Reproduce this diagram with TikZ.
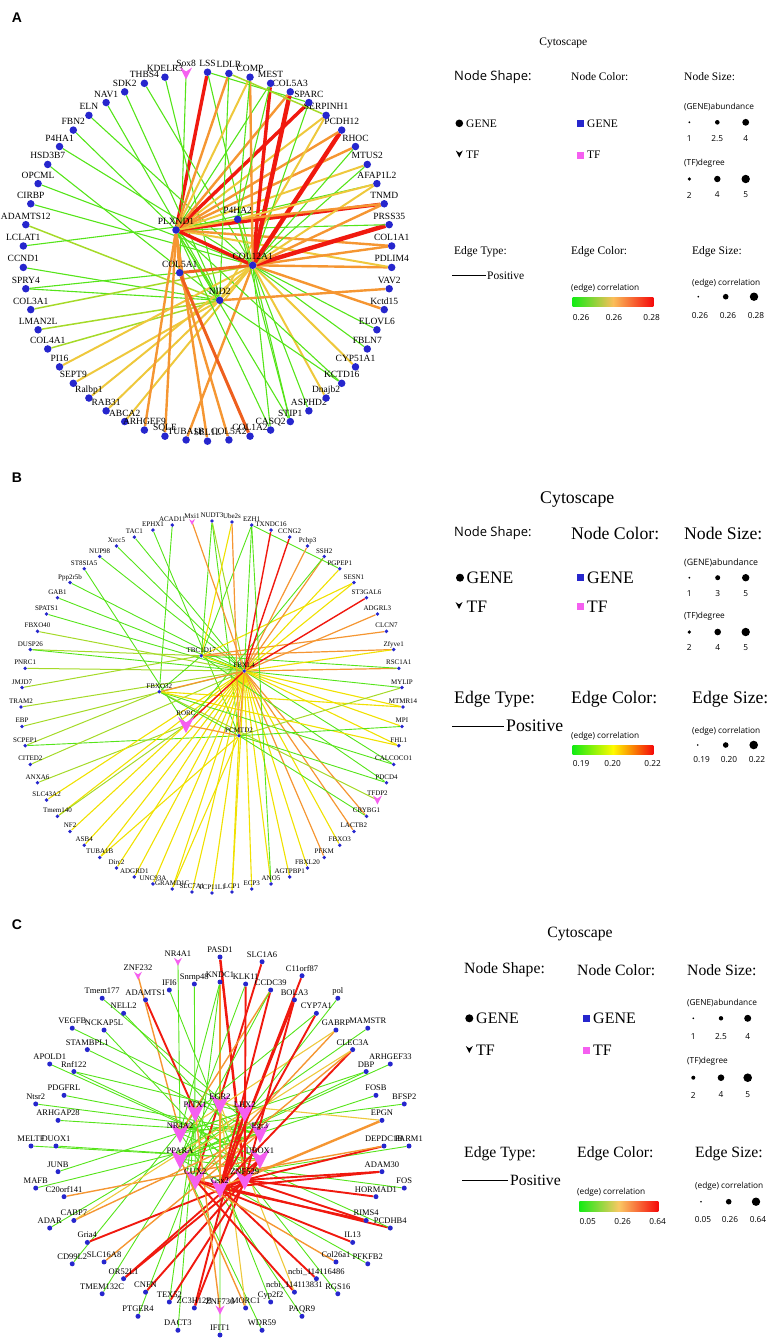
\documentclass[tikz,border=0pt]{standalone}
\usepackage{fontspec}
\setmainfont{Liberation Serif}
\setsansfont{Liberation Sans}
\newfontfamily\osans{Open Sans}
\usetikzlibrary{backgrounds}
\definecolor{nblue}{RGB}{38,38,205}
\definecolor{tpink}{RGB}{245,95,240}
\definecolor{colG}{RGB}{85,228,25}
\definecolor{colYG}{RGB}{165,218,40}
\definecolor{colY}{RGB}{238,200,60}
\definecolor{colBY}{RGB}{240,225,0}
\definecolor{colO}{RGB}{245,150,50}
\definecolor{colOR}{RGB}{238,95,30}
\definecolor{colR}{RGB}{240,25,15}
\definecolor{gradG}{RGB}{20,235,20}
\definecolor{gradR}{RGB}{245,10,10}
\newcommand\chev[4]{\fill[#4] (#1,#2) ++(-#3,-#3) -- ++(#3,{#3*0.667}) -- ++(#3,{-#3*0.667}) -- ++(-#3,{2*#3}) -- cycle;}
\newcommand\tfv[3]{\fill[#3] (#1) ++(-#2,-#2) -- ++(#2,{#2*0.667}) -- ++(#2,{-#2*0.667}) -- ++(-#2,{2*#2}) -- cycle;}
\tikzset{
  adot/.style={circle,fill=nblue,inner sep=0pt,minimum size=7.5pt},
  bdot/.style={circle,fill=nblue,inner sep=0pt,minimum size=3.8pt},
  cdot/.style={circle,fill=nblue,inner sep=0pt,minimum size=5pt},
  tfpt/.style={shape=coordinate},
  alab/.style={font=\fontsize{9.5}{10}\selectfont,inner sep=0pt,anchor=base},
  blab/.style={font=\fontsize{7}{8}\selectfont,inner sep=0pt,anchor=base},
  clab/.style={font=\fontsize{8.5}{9}\selectfont,inner sep=0pt,anchor=base},
  aG/.style={draw=colG,line width=1.1pt},
  aYG/.style={draw=colYG,line width=1.5pt},
  aY/.style={draw=colY,line width=2pt},
  aO/.style={draw=colO,line width=2.4pt},
  aOR/.style={draw=colOR,line width=3pt},
  aR/.style={draw=colR,line width=3.4pt},
  aRR/.style={draw=colR,line width=4.4pt},
  bG/.style={draw=colG,line width=0.9pt},
  bYG/.style={draw=colYG,line width=1pt},
  bY/.style={draw=colBY,line width=1.1pt},
  bO/.style={draw=colO,line width=1.2pt},
  bR/.style={draw=colR,line width=1.4pt},
  cG/.style={draw=colG,line width=0.9pt},
  cY/.style={draw=colY,line width=1.1pt},
  cO/.style={draw=colO,line width=1.4pt},
  cOO/.style={draw=colO,line width=2.4pt},
  cR/.style={draw=colR,line width=1.9pt},
  cRR/.style={draw=colR,line width=2.5pt},
  legs/.style={font=\osans\fontsize{8.3}{9}\selectfont,inner sep=0pt},
  panel/.style={font=\sffamily\bfseries\fontsize{14}{14}\selectfont,inner sep=0pt}
}
\begin{document}
\begin{tikzpicture}[x=1pt,y=-1pt]
\useasboundingbox (0,0) rectangle (770,1339);
% ================= PANEL A =================
\node[panel] (pA) at (17,18) {A};
\foreach \k/\lab in {0/LSS,2/KDELR3,3/THBS4,4/SDK2,5/NAV1,6/ELN,7/FBN2,8/P4HA1,9/HSD3B7,10/OPCML,11/CIRBP,12/ADAMTS12,13/LCLAT1,14/CCND1,15/SPRY4,16/COL3A1,17/LMAN2L,18/COL4A1,19/PI16,20/SEPT9,21/Ralbp1,22/RAB31,23/ABCA2,24/ARHGEF9,25/SQLE,26/TUBA1B,27/SEL1L,28/COL5A2,29/COL1A2,30/CASQ2,31/STIP1,32/ASPHD2,33/Dnajb2,34/KCTD16,35/CYP51A1,36/FBLN7,37/ELOVL6,38/Kctd15,39/VAV2,40/PDLIM4,41/COL1A1,42/PRSS35,43/TNMD,44/AFAP1L2,45/MTUS2,46/RHOC,47/PCDH12,48/SERPINH1,49/SPARC,50/COL5A3,51/MEST,52/COMP,53/LDLR}{
  \node[adot] (a\k) at ({207.5+184.5*cos(90+6.6667*\k)},{256.7-184.5*sin(90+6.6667*\k)}) {};
  \node[alab] (al\k) at ([yshift=5.5pt]a\k.center) {\lab};
}
\node[tfpt] (a1) at ({207.5+184.5*cos(96.6667)},{256.7-184.5*sin(96.6667)}) {};
\node[alab] (al1) at ([yshift=6.5pt]a1) {Sox8};
\foreach \n/\x/\y/\lab in {aPLX/176/230/PLXND1,aP4H/237.7/219.3/P4HA2,aC12/252.7/265.3/COL12A1,aC5/179.7/272.7/COL5A1,aNID/219.7/300.3/NID2}{
  \node[adot] (\n) at (\x,\y) {};
  \node[alab] (\n l) at ([yshift=5.5pt]\n.center) {\lab};
}
\begin{pgfonlayer}{background}
\foreach \u/\v/\s in {a0/aPLX/aR,a0/aC12/aG,a0/a49/aG,a1/aC5/aG,a2/aNID/aG,a3/aC12/aG,a4/aNID/aG,a5/aNID/aG,a6/aC12/aG,a7/aPLX/aG,a8/aC12/aG,a9/aNID/aG,a10/aC12/aG,a11/aC12/aG,a12/aNID/aYG,a13/aP4H/aG,a14/aNID/aG,a15/aNID/aG,a15/aC12/aG,a16/aC12/aYG,a17/aNID/aYG,a18/aNID/aYG,a19/aC12/aY,a20/aNID/aY,a21/aC12/aY,a22/aNID/aY,a23/aC12/aY,a24/aPLX/aO,a25/aPLX/aO,a26/aC12/aO,a27/aPLX/aO,a28/aC5/aO,a29/aC5/aOR,a30/aPLX/aG,a30/aC12/aG,a31/aC12/aG,a31/aPLX/aG,a32/aC12/aG,a33/aC12/aY,a34/aNID/aG,a34/aPLX/aG,a35/aC12/aY,a36/aC12/aG,a37/aC12/aG,a38/aC12/aO,a39/aNID/aO,a40/aC12/aO,a40/aPLX/aY,a41/aC12/aO,a41/aPLX/aO,a42/aC12/aRR,a42/aPLX/aG,a43/aPLX/aR,a43/aC12/aO,a44/aPLX/aG,a44/aC12/aY,a45/aPLX/aY,a45/aC12/aG,a46/aPLX/aO,a46/aC12/aG,a47/aC12/aRR,a47/aPLX/aO,a48/aPLX/aY,a48/aNID/aY,a49/aPLX/aR,a49/aC12/aG,a50/aC12/aRR,a50/aPLX/aO,a51/aC12/aR,a51/aPLX/aG,a52/aC12/aO,a52/aPLX/aY,a53/aPLX/aO,a53/aNID/aG,a53/a48/aYG,aPLX/aC12/aR,aPLX/aP4H/aY,aC5/aC12/aOR,aNID/aC12/aY,aPLX/aNID/aG,aP4H/aC12/aYG,aPLX/aC5/aO,aP4H/a43/aO,aP4H/a44/aY,aP4H/a51/aG,aP4H/a52/aG,aP4H/a31/aG}
  \draw[\s] (\u) -- (\v);
\end{pgfonlayer}
\tfv{a1}{6}{tpink}
% legend A
\node[font=\fontsize{11.5}{12}\selectfont,inner sep=0pt] (lgA0) at (563.3,43.3) {Cytoscape};
\node[font=\osans\fontsize{13}{14}\selectfont,inner sep=0pt,anchor=west] (lgA1) at (454,76.7) {Node Shape:};
\node[font=\fontsize{11.5}{12}\selectfont,inner sep=0pt,anchor=west] (lgA2) at (571,76.7) {Node Color:};
\node[font=\fontsize{11.5}{12}\selectfont,inner sep=0pt,anchor=west] (lgA3) at (684,76.7) {Node Size:};
\fill (459.3,123.3) circle (3.8);
\node[font=\fontsize{11.5}{12}\selectfont,inner sep=0pt,anchor=west] (lgA4) at (466,123.3) {GENE};
\chev{459.3}{154}{3.5}{black}
\node[font=\fontsize{11.5}{12}\selectfont,inner sep=0pt,anchor=west] (lgA5) at (466,155) {TF};
\fill[nblue] (576.8,119.8) rectangle (583.8,126.8);
\fill[tpink] (576.8,151.5) rectangle (583.8,158.5);
\node[font=\fontsize{11.5}{12}\selectfont,inner sep=0pt,anchor=west] (lgA6) at (587,123.3) {GENE};
\node[font=\fontsize{11.5}{12}\selectfont,inner sep=0pt,anchor=west] (lgA7) at (587,155) {TF};
\node[legs,anchor=west] (lgA8) at (684,106.7) {(GENE)abundance};
\fill (689.3,122.3) circle (1); \fill (717.3,122.3) circle (2.3); \fill (745.7,122.3) circle (3.4);
\node[legs] (lgA9) at (689.3,138.3) {1};
\node[legs] (lgA10) at (717.3,138.3) {2.5};
\node[legs] (lgA11) at (745.7,138.3) {4};
\node[legs,anchor=west] (lgA12) at (684,163.3) {(TF)degree};
\fill (689.3,179) circle (1.8); \fill (717.3,179) circle (3.2); \fill (745.7,179) circle (4.2);
\node[legs] (lgA13) at (689.3,195) {2};
\node[legs] (lgA14) at (717.3,195) {4};
\node[legs] (lgA15) at (745.7,195) {5};
\node[font=\fontsize{11.5}{12}\selectfont,inner sep=0pt,anchor=west] (lgA16) at (454,251.7) {Edge Type:};
\draw[line width=0.8pt] (452,275.7) -- (486,275.7);
\node[font=\fontsize{11.5}{12}\selectfont,inner sep=0pt,anchor=west] (lgA17) at (487,275.7) {Positive};
\node[font=\fontsize{11.5}{12}\selectfont,inner sep=0pt,anchor=west] (lgA18) at (571,251.7) {Edge Color:};
\node[legs,anchor=west] (lgA19) at (571,288.3) {(edge) correlation};
\shade[left color=gradG,right color=gradR,middle color={rgb,255:red,250;green,190;blue,90}] (572.7,297.7) rectangle (653.3,306.7);
\node[legs,anchor=west] (lgA20) at (572.7,318) {0.26};
\node[legs] (lgA21) at (614,318) {0.26};
\node[legs,anchor=east] (lgA22) at (660,318) {0.28};
\node[font=\fontsize{11.5}{12}\selectfont,inner sep=0pt,anchor=west] (lgA23) at (692,251.7) {Edge Size:};
\node[legs,anchor=west] (lgA24) at (692,283.3) {(edge) correlation};
\fill (698.3,296.7) circle (0.9); \fill (725.7,296.7) circle (2.8); \fill (754,296.7) circle (4.2);
\node[legs] (lgA25) at (700,316) {0.26};
\node[legs] (lgA26) at (728,316) {0.26};
\node[legs] (lgA27) at (756,316) {0.28};
% ================= PANEL B =================
\node[panel] (pB) at (17,478) {B};
\foreach \k/\lab in {0/NUDT3,2/ACAD11,3/EPHX1,4/TAC1,5/Xrcc5,6/NUP98,7/ST8SIA5,8/Ppp2r5b,9/GAB1,10/SPATS1,11/FBXO40,12/DUSP26,13/PNRC1,14/JMJD7,15/TRAM2,16/EBP,17/SCPEP1,18/CITED2,19/ANXA6,20/SLC43A2,21/Tmem140,22/NF2,23/ASB4,24/TUBA1B,25/Dirc2,26/ADGRD1,27/UNC93A,28/GRAMD1C,29/SLC7A1,30/TCP11L1,31/LCP1,32/ECP3,33/ANO5,34/AGTPBP1,35/FBXL20,36/PFKM,37/FBXO3,38/LACTB2,39/CRYBG1,41/PDCD4,42/CALCOCO1,43/FHL1,44/MPI,45/MTMR14,46/MYLIP,47/RSC1A1,48/Zfyve1,49/CLCN7,50/ADGRL3,51/ST3GAL6,52/SESN1,53/PGPEP1,54/SSH2,55/Pcbp3,56/CCNG2,57/TXNDC16,58/EZH1,59/Ube2s}{
  \node[bdot] (b\k) at ({212+191*cos(90+6*\k)},{707-186*sin(90+6*\k)}) {};
  \node[blab] (bl\k) at ([yshift=3.5pt]b\k.center) {\lab};
}
\node[tfpt] (b1) at ({212+191*cos(96)},{707-186*sin(96)}) {};
\node[blab] (bl1) at ([yshift=3.5pt]b1) {Mxi1};
\node[tfpt] (b40) at ({212+191*cos(330)},{707-186*sin(330)}) {};
\node[blab] (bl40) at ([yshift=5pt]b40) {TFDP2};
\foreach \n/\x/\y/\lab in {bTBC/201.3/655.7/TBC1D17,bFB4/244.3/671/FBXL4,bFO/159.3/691.7/FBXO32,bPCM/239/735.7/PCMTD2}{
  \node[bdot] (\n) at (\x,\y) {};
  \node[blab] (\n l) at ([yshift=3.5pt]\n.center) {\lab};
}
\node[tfpt] (bROR) at (186,725) {};
\node[blab] (bRORl) at ([yshift=10pt]bROR) {RORC};
\begin{pgfonlayer}{background}
\foreach \u/\v/\s in {b0/bTBC/bG,b0/bPCM/bG,b0/bFB4/bYG,b1/bFB4/bO,b2/bFO/bG,b3/bPCM/bG,b4/bFB4/bG,b5/bFB4/bG,b6/bFB4/bG,b7/bROR/bG,b8/bFB4/bG,b9/bFB4/bG,b10/bFB4/bG,b11/bFB4/bYG,b12/bTBC/bYG,b12/bFB4/bG,b13/bFB4/bYG,b14/bTBC/bYG,b15/bFB4/bYG,b16/bFB4/bYG,b17/bFO/bYG,b17/bPCM/bG,b18/bFB4/bYG,b19/bROR/bYG,b20/bFB4/bY,b21/bFB4/bY,b21/bROR/bYG,b22/bFB4/bY,b23/bFB4/bY,b24/bFB4/bY,b24/bPCM/bY,b25/bFB4/bY,b26/bFB4/bY,b27/bFB4/bY,b28/bFB4/bY,b28/bPCM/bY,b29/bFB4/bY,b30/bFB4/bY,b31/bFB4/bY,b31/bPCM/bY,b32/bFB4/bY,b33/bFB4/bY,b34/bFB4/bY,b35/bFB4/bY,b36/bFB4/bO,b37/bFB4/bY,b38/bFB4/bO,b39/bFB4/bO,b39/bPCM/bG,b40/bFO/bYG,b41/bPCM/bG,b41/bTBC/bG,b42/bFB4/bG,b42/bFO/bG,b43/bFB4/bY,b43/bFO/bY,b44/bFB4/bY,b44/bPCM/bG,b45/bFB4/bY,b45/bFO/bY,b46/bFB4/bG,b46/bPCM/bYG,b47/bFB4/bO,b47/bTBC/bG,b48/bTBC/bO,b48/bFB4/bY,b49/bTBC/bO,b50/bFB4/bO,b51/bFB4/bR,b52/bFB4/bY,b52/bTBC/bY,b53/bFB4/bY,b53/b58/bG,b54/bFB4/bO,b54/bROR/bG,b55/bFB4/bO,b56/bFB4/bR,b57/bFB4/bR,b58/bTBC/bG,b58/bFB4/bG,b58/b33/bG,b59/bTBC/bY,b59/bPCM/bO,bTBC/bFB4/bY,bFO/bFB4/bO,bROR/bFB4/bR,bROR/bPCM/bO,bFB4/bPCM/bO,bTBC/bFO/bG,bFO/bPCM/bG}
  \draw[\s] (\u) -- (\v);
\end{pgfonlayer}
\tfv{b1}{3}{tpink}
\tfv{b40}{4.5}{tpink}
\tfv{bROR}{8}{tpink}
% legend B
\begin{scope}
\clip (480,491) rectangle (680,515);
\node[font=\fontsize{17.8}{18}\selectfont,inner sep=0pt] (lgB0) at (577.3,500) {Cytoscape};
\end{scope}
\node[font=\osans\fontsize{13}{14}\selectfont,inner sep=0pt,anchor=west] (lgB1) at (454,533.3) {Node Shape:};
\node[font=\fontsize{17.7}{18}\selectfont,inner sep=0pt,anchor=west] (lgB2) at (571,533.3) {Node Color:};
\node[font=\fontsize{17.7}{18}\selectfont,inner sep=0pt,anchor=west] (lgB3) at (684,533.3) {Node Size:};
\fill (460,577.7) circle (4);
\node[font=\fontsize{17.5}{18}\selectfont,inner sep=0pt,anchor=west] (lgB4) at (466.5,577.7) {GENE};
\chev{459}{605.5}{3.5}{black}
\node[font=\fontsize{17.5}{18}\selectfont,inner sep=0pt,anchor=west] (lgB5) at (466.5,606.7) {TF};
\fill[nblue] (576.8,574.2) rectangle (583.8,581.2);
\fill[tpink] (576.8,603.2) rectangle (583.8,610.2);
\node[font=\fontsize{17.5}{18}\selectfont,inner sep=0pt,anchor=west] (lgB6) at (587,577.7) {GENE};
\node[font=\fontsize{17.5}{18}\selectfont,inner sep=0pt,anchor=west] (lgB7) at (587,606.7) {TF};
\node[legs,anchor=west,font=\osans\fontsize{8.8}{9}\selectfont] (lgB8) at (684,563.3) {(GENE)abundance};
\fill (689.3,577.7) circle (1); \fill (717.7,577.7) circle (2.5); \fill (745.7,577.7) circle (3.7);
\node[legs] (lgB9) at (689.3,593.3) {1};
\node[legs] (lgB10) at (717.7,593.3) {3};
\node[legs] (lgB11) at (745.7,593.3) {5};
\node[legs,anchor=west] (lgB12) at (684,616.7) {(TF)degree};
\fill (689.3,632) circle (1.8); \fill (717.7,632) circle (3.3); \fill (745.7,632) circle (4.2);
\node[legs] (lgB13) at (689.3,647.7) {2};
\node[legs] (lgB14) at (717.7,647.7) {4};
\node[legs] (lgB15) at (745.7,647.7) {5};
\node[font=\fontsize{17.7}{18}\selectfont,inner sep=0pt,anchor=west] (lgB16) at (454,699) {Edge Type:};
\draw[line width=0.8pt] (452,726) -- (504.3,726);
\node[font=\fontsize{17.7}{18}\selectfont,inner sep=0pt,anchor=west] (lgB17) at (506,726) {Positive};
\node[font=\fontsize{17.7}{18}\selectfont,inner sep=0pt,anchor=west] (lgB18) at (571,699) {Edge Color:};
\node[legs,anchor=west] (lgB19) at (571,736.7) {(edge) correlation};
\shade[left color=gradG,right color=gradR,middle color={rgb,255:red,255;green,250;blue,0}] (572.7,745) rectangle (653.3,754);
\node[legs,anchor=west] (lgB20) at (572.7,763.3) {0.19};
\node[legs] (lgB21) at (612.7,763.3) {0.20};
\node[legs,anchor=east] (lgB22) at (661,763.3) {0.22};
\node[font=\fontsize{17.7}{18}\selectfont,inner sep=0pt,anchor=west] (lgB23) at (692,699) {Edge Size:};
\node[legs,anchor=west] (lgB24) at (692,731.7) {(edge) correlation};
\fill (697.7,745) circle (0.9); \fill (725.7,745) circle (2.8); \fill (753.7,745) circle (4.3);
\node[legs] (lgB25) at (701.7,760) {0.19};
\node[legs] (lgB26) at (729,760) {0.20};
\node[legs] (lgB27) at (757,760) {0.22};
% ================= PANEL C =================
\node[panel] (pC) at (17,925) {C};
\foreach \k/\lab in {0/PASD1,3/Tmem177,4/VEGFB,5/APOLD1,6/Ntsr2,7/MELTF,8/MAFB,9/ADAR,10/CD99L2,11/TMEM132C,12/PTGER4,13/DACT3,14/IFIT1,15/WDR59,16/PAQR9,17/RGS16,18/PFKFB2,19/PCDHB4,20/FOS,21/PARM1,22/BFSP2,23/ARHGEF33,24/MAMSTR,25/pol,26/C11orf87,27/SLC1A6}{
  \node[cdot] (co\k) at ({220+189*cos(90+12.857*\k)},{1146-189*sin(90+12.857*\k)}) {};
  \node[clab] (col\k) at ([yshift=4.5pt]co\k.center) {\lab};
}
\node[tfpt] (co1) at ({220+189*cos(102.857)},{1146-189*sin(102.857)}) {};
\node[clab] (col1) at ([yshift=5.5pt]co1) {NR4A1};
\node[tfpt] (co2) at ({220+189*cos(115.714)},{1146-189*sin(115.714)}) {};
\node[clab] (col2) at ([yshift=5.5pt]co2) {ZNF232};
\foreach \k/\lab in {0/KNDC1,1/Snrnp48,2/IFI6,3/ADAMTS1,4/NELL2,5/NCKAP5L,6/STAMBPL1,7/Rnf122,8/PDGFRL,9/ARHGAP28,10/DUOX1,11/JUNB,12/C20orf141,13/CABP7,14/Gria4,15/SLC16A8,16/OR52L1,17/CNFN,18/TEX52,19/ZC3H12B,21/MORC1,22/Cyp2f2,23/ncbi\_114113831,24/ncbi\_114116486,25/Col26a1,26/IL13,27/RIMS4,28/HORMAD1,29/ADAM30,30/DEPDC1B,31/EPGN,32/FOSB,33/DBP,34/CLEC3A,35/GABRP,36/CYP7A1,37/BOLA3,38/CCDC39,39/KLK11}{
  \node[cdot] (ci\k) at ({220+164*cos(90+9*\k)},{1146-164*sin(90+9*\k)}) {};
  \node[clab] (cil\k) at ([yshift=4.5pt]ci\k.center) {\lab};
}
\node[tfpt] (ci20) at (220,1310) {};
\node[clab] (cil20) at ([yshift=5.5pt]ci20) {ZNF736};
\foreach \k/\lab in {0/EGR2,1/PITX1,2/NR4A2,3/PPARA,4/CUX2,5/Gsx2,6/ZNF529,7/UBOX1,8/Egr3,9/LHX2}{
  \node[tfpt] (ch\k) at ({220+42*cos(90+36*\k)},{1146-42*sin(90+36*\k)}) {};
}
\begin{pgfonlayer}{background}
\foreach \u/\v/\s in {co0/ch6/cRR,co1/ch2/cG,co2/ch2/cO,co3/ch8/cG,co4/ch9/cG,co5/ch7/cG,co6/ch8/cG,co7/ch7/cG,co8/ch8/cG,co9/ch9/cG,co10/ch1/cG,co11/ch0/cG,co12/ch0/cG,co13/ch1/cG,co14/ch0/cG,co15/ch3/cG,co16/ch2/cG,co17/ch1/cG,co18/ch3/cG,co19/ch4/cR,co19/ch2/cG,co20/ch3/cG,co21/ch4/cG,co22/ch2/cG,co23/ch3/cG,co24/ch3/cG,co25/ch4/cG,co26/ch5/cR,co27/ch4/cR,ci0/ch5/cO,ci0/ch4/cG,ci0/ch2/cG,ci1/ch4/cG,ci2/ch6/cG,ci3/ch1/cR,ci4/ch7/cG,ci5/ch6/cG,ci6/ch8/cG,ci7/ch7/cG,ci7/ch9/cG,ci8/ch8/cG,ci9/ch8/cG,ci10/ch7/cG,ci11/ch9/cG,ci12/ch7/cO,ci13/ch8/cO,ci13/ch9/cY,ci14/ch6/cR,ci15/ch8/cO,ci16/ch6/cR,ci16/ch7/cR,ci17/ch6/cR,ci18/ch7/cR,ci18/ch1/cG,ci19/ch6/cR,ci19/ch9/cR,ci20/ch1/cO,ci21/ch3/cO,ci21/ch0/cY,ci22/ch1/cG,ci23/ch4/cR,ci23/ch0/cY,ci24/ch5/cR,ci25/ch4/cO,ci26/ch4/cR,ci27/ch6/cR,ci27/ch5/cR,ci28/ch6/cR,ci29/ch6/cR,ci29/ch5/cR,ci30/ch6/cR,ci30/ch4/cO,ci31/ch5/cOO,ci31/ch0/cY,ci32/ch3/cG,ci33/ch3/cG,ci33/ch2/cG,ci34/ch5/cR,ci34/ch4/cO,ci34/ch3/cY,ci35/ch4/cO,ci35/ch2/cY,ci36/ch5/cR,ci36/ch1/cG,ci37/ch6/cR,ci37/ch5/cR,ci38/ch5/cR,ci38/ch2/cO,ci38/ch3/cG,ci39/ch6/cR,ci39/ch3/cG,ch5/ch6/cR,ch5/ch9/cR,ch7/ch6/cR,ch0/ch5/cO}
  \draw[\s] (\u) -- (\v);
\end{pgfonlayer}
\tfv{co1}{4}{tpink}
\tfv{co2}{4}{tpink}
\tfv{ci20}{4.5}{tpink}
\foreach \k/\lab in {0/EGR2,1/PITX1,2/NR4A2,3/PPARA,4/CUX2,5/Gsx2,6/ZNF529,7/UBOX1,8/Egr3,9/LHX2}{
  \tfv{ch\k}{10}{tpink}
  \node[clab] (chl\k) at ([yshift=5pt]ch\k) {\lab};
}
% legend C
\node[font=\fontsize{15.7}{16}\selectfont,inner sep=0pt] (lgC0) at (580,934) {Cytoscape};
\node[font=\fontsize{15.7}{16}\selectfont,inner sep=0pt,anchor=west] (lgC1) at (464,970) {Node Shape:};
\node[font=\fontsize{15.7}{16}\selectfont,inner sep=0pt,anchor=west] (lgC2) at (577,970) {Node Color:};
\node[font=\fontsize{15.7}{16}\selectfont,inner sep=0pt,anchor=west] (lgC3) at (687,970) {Node Size:};
\fill (469.3,1018.3) circle (4);
\node[font=\fontsize{16}{16}\selectfont,inner sep=0pt,anchor=west] (lgC4) at (476,1018.3) {GENE};
\chev{469.3}{1049.5}{3.5}{black}
\node[font=\fontsize{16}{16}\selectfont,inner sep=0pt,anchor=west] (lgC5) at (476,1050.7) {TF};
\fill[nblue] (583.2,1014.8) rectangle (590.2,1021.8);
\fill[tpink] (583.2,1047.2) rectangle (590.2,1054.2);
\node[font=\fontsize{16}{16}\selectfont,inner sep=0pt,anchor=west] (lgC6) at (593,1018.3) {GENE};
\node[font=\fontsize{16}{16}\selectfont,inner sep=0pt,anchor=west] (lgC7) at (593,1050.7) {TF};
\node[legs,anchor=west] (lgC8) at (687,1002.7) {(GENE)abundance};
\fill (693.3,1018.3) circle (0.9); \fill (721,1018.3) circle (2.2); \fill (747.7,1018.3) circle (3.5);
\node[legs] (lgC9) at (693.3,1036.7) {1};
\node[legs] (lgC10) at (721,1036.7) {2.5};
\node[legs] (lgC11) at (747.7,1036.7) {4};
\node[legs,anchor=west] (lgC12) at (687,1061.7) {(TF)degree};
\fill (693.3,1077.7) circle (2); \fill (721,1077.7) circle (3.3); \fill (747.7,1077.7) circle (4.3);
\node[legs] (lgC13) at (693.3,1095) {2};
\node[legs] (lgC14) at (721,1095) {4};
\node[legs] (lgC15) at (747.7,1095) {5};
\node[font=\fontsize{15.7}{16}\selectfont,inner sep=0pt,anchor=west] (lgC16) at (464,1153.3) {Edge Type:};
\draw[line width=0.8pt] (462,1180.7) -- (508.3,1180.7);
\node[font=\fontsize{15.7}{16}\selectfont,inner sep=0pt,anchor=west] (lgC17) at (510,1180.7) {Positive};
\node[font=\fontsize{15.7}{16}\selectfont,inner sep=0pt,anchor=west] (lgC18) at (577,1153.3) {Edge Color:};
\node[legs,anchor=west] (lgC19) at (577,1192.7) {(edge) correlation};
\shade[left color=gradG,right color=gradR,middle color={rgb,255:red,250;green,200;blue,100}] (579.3,1201.7) rectangle (658.3,1211.7);
\node[legs,anchor=west] (lgC20) at (579.3,1221.7) {0.05};
\node[legs] (lgC21) at (622.7,1221.7) {0.26};
\node[legs,anchor=east] (lgC22) at (666,1221.7) {0.64};
\node[font=\fontsize{15.7}{16}\selectfont,inner sep=0pt,anchor=west] (lgC23) at (695,1153.3) {Edge Size:};
\node[legs,anchor=west] (lgC24) at (695,1186.7) {(edge) correlation};
\fill (701,1201.7) circle (0.9); \fill (728.7,1201.7) circle (2.8); \fill (756,1201.7) circle (4.2);
\node[legs] (lgC25) at (703,1220) {0.05};
\node[legs] (lgC26) at (730,1220) {0.26};
\node[legs] (lgC27) at (758,1220) {0.64};
\end{tikzpicture}
\end{document}
